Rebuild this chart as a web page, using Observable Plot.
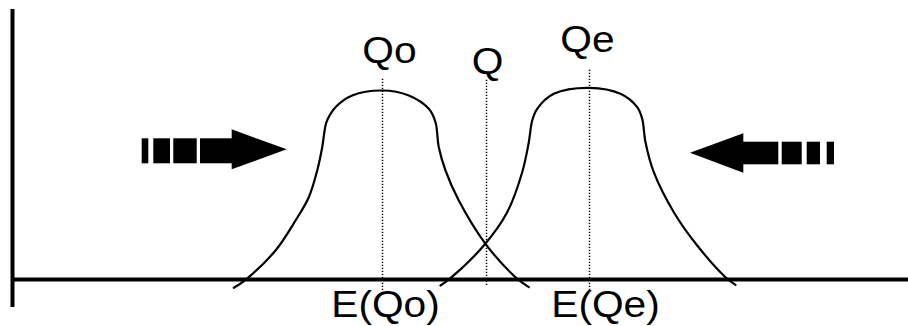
<!DOCTYPE html>
<html>
<head>
<meta charset="utf-8">
<script src="https://cdn.jsdelivr.net/npm/d3@7"></script>
<script src="https://cdn.jsdelivr.net/npm/@observablehq/plot@0.6"></script>
<style>
  html, body { margin: 0; padding: 0; background: #fff; }
</style>
</head>
<body>
<div id="chart"></div>
<script>
// Coordinate system: x = quantity (0..908), y = density height above the horizontal axis.

// Left distribution (centred on E(Qo))
const curveQoX = [233.3, 245, 275, 295, 308.3, 316.7, 321.7, 325, 327, 335, 351.7, 381.7, 408.3, 428.3, 435, 438.3, 445, 458.3, 485, 515, 528.3];
const curveQoY = [-8.3, -0.3, 29, 59, 82.3, 109, 132.3, 154, 160, 172.3, 184, 189, 184, 170.7, 157.3, 132.3, 109, 79, 35.7, 2.3, -7.7];

// Right distribution (centred on E(Qe))
const curveQeX = [440, 450, 483.3, 506.7, 521.7, 528.3, 531.7, 536.7, 553.3, 589, 620, 636.7, 641.7, 645, 653.3, 673.3, 696.7, 725, 735];
const curveQeY = [-6, 1.3, 34, 67.3, 107.3, 137.3, 159, 170.7, 185.7, 191.7, 185.7, 172.3, 160.7, 137.3, 107.3, 67.3, 34, 2.3, -5.3];

// Dotted reference lines: Qo, Q, Qe
const refX = [382, 486, 589];
const refTop = [202, 200, 210];
const refBottom = [-11, -6, -11];

// Labels
const topLabels = ["Qo", "Q", "Qe"];
const topLabelX = [389, 487, 587];
const topLabelY = [217, 206, 228];
const bottomLabels = ["E(Qo)", "E(Qe)"];
const bottomLabelX = [385, 605];
const bottomLabelY = [-37, -37];

// Striped arrow pointing right (left side)
const rightStripeX1 = [141.7, 153.3, 173.3, 200];
const rightStripeX2 = [148.3, 170, 196.7, 232];
const rightStripeY = [115.7, 140.7];
const rightHeadX = [231.7, 286.7];
const rightHeadY1 = [109.7, 129.7];
const rightHeadY2 = [149.7, 129.7];

// Striped arrow pointing left (right side)
const leftStripeX1 = [743, 781.7, 806.7, 826.7];
const leftStripeX2 = [778.3, 801.7, 820, 834];
const leftStripeY = [114.7, 137.3];
const leftHeadX = [690, 743.3];
const leftHeadY1 = [126.3, 106.3];
const leftHeadY2 = [126.3, 145.7];

// Axes
const axisOriginX = 12;
const axisEndX = 908;
const axisYBottom = -28;
const axisYTop = 270;

// Build tables
const zip2 = (xs, ys) => xs.map((x, i) => ({x, y: ys[i]}));
const qo = zip2(curveQoX, curveQoY);
const qe = zip2(curveQeX, curveQeY);
const refs = refX.map((x, i) => ({x, y1: refBottom[i], y2: refTop[i]}));
const tops = topLabels.map((t, i) => ({t, x: topLabelX[i], y: topLabelY[i]}));
const bottoms = bottomLabels.map((t, i) => ({t, x: bottomLabelX[i], y: bottomLabelY[i]}));
const rStripes = rightStripeX1.map((x1, i) => ({x1, x2: rightStripeX2[i], y1: rightStripeY[0], y2: rightStripeY[1]}));
const lStripes = leftStripeX1.map((x1, i) => ({x1, x2: leftStripeX2[i], y1: leftStripeY[0], y2: leftStripeY[1]}));
const rHead = rightHeadX.map((x, i) => ({x, y1: rightHeadY1[i], y2: rightHeadY2[i]}));
const lHead = leftHeadX.map((x, i) => ({x, y1: leftHeadY1[i], y2: leftHeadY2[i]}));

const chart = Plot.plot({
  width: 908,
  height: 326,
  margin: 0,
  style: {fontFamily: "'Liberation Sans', Arial, sans-serif", background: "#fff"},
  x: {domain: [0, 908], axis: null},
  y: {domain: [-47, 279], axis: null},
  marks: [
    Plot.ruleX([axisOriginX], {y1: axisYBottom, y2: axisYTop, stroke: "black", strokeWidth: 4}),
    Plot.ruleY([0], {x1: axisOriginX, x2: axisEndX, stroke: "black", strokeWidth: 4}),
    Plot.ruleX(refs, {x: "x", y1: "y1", y2: "y2", stroke: "black", strokeWidth: 1.5, strokeDasharray: "1.2,1.8"}),
    Plot.line(qo, {x: "x", y: "y", curve: "catmull-rom", stroke: "black", strokeWidth: 2.2}),
    Plot.line(qe, {x: "x", y: "y", curve: "catmull-rom", stroke: "black", strokeWidth: 2.2}),
    Plot.rect(rStripes, {x1: "x1", x2: "x2", y1: "y1", y2: "y2", fill: "black"}),
    Plot.areaY(rHead, {x: "x", y1: "y1", y2: "y2", fill: "black"}),
    Plot.rect(lStripes, {x1: "x1", x2: "x2", y1: "y1", y2: "y2", fill: "black"}),
    Plot.areaY(lHead, {x: "x", y1: "y1", y2: "y2", fill: "black"}),
    Plot.text(tops, {x: "x", y: "y", text: "t", fontSize: 37, lineAnchor: "bottom", textAnchor: "middle", fill: "black"}),
    Plot.text(bottoms, {x: "x", y: "y", text: "t", fontSize: 37, lineAnchor: "bottom", textAnchor: "middle", fill: "black"})
  ]
});

// Slight horizontal stretch of the lettering, as in the reference
d3.select(chart).selectAll("text").each(function() {
  const el = d3.select(this);
  const tr = el.attr("transform");
  if (tr) {
    el.attr("transform", tr + " scale(1.1,1)");
  } else {
    const x = +el.attr("x") || 0, y = +el.attr("y") || 0;
    el.attr("x", null).attr("y", null).attr("transform", `translate(${x},${y}) scale(1.1,1)`);
  }
});

document.getElementById("chart").appendChild(chart);
</script>
</body>
</html>
